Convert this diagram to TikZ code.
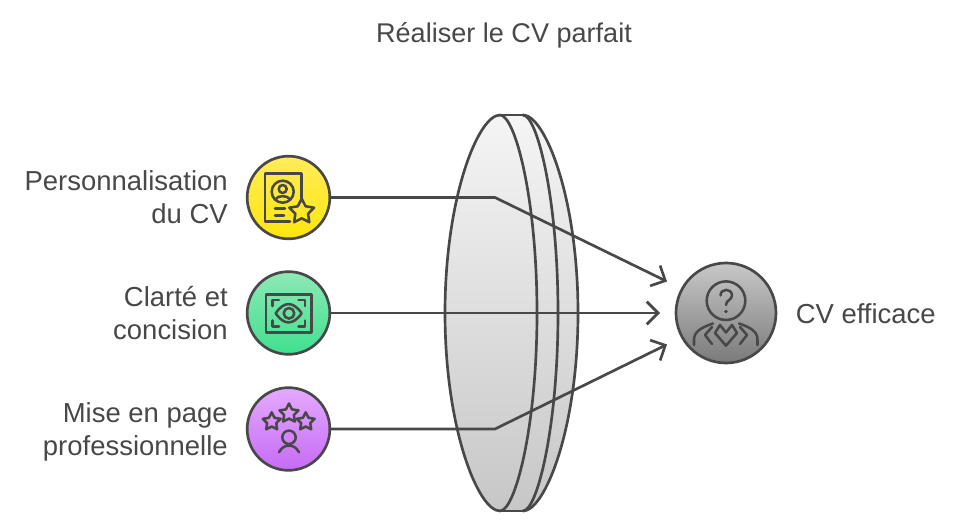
\documentclass[tikz,border=0pt]{standalone}
\usepackage{fontspec}
\setmainfont{Liberation Sans}
\usetikzlibrary{arrows.meta,shapes.geometric}
\definecolor{ink}{HTML}{484848}
\tikzset{
  x=0.75pt,y=-0.75pt,
  ln/.style={draw=ink,line width=2pt,line cap=round,line join=round},
  ic/.style={draw=ink,line width=1.9pt,line cap=round,line join=round},
  badge/.style={circle,draw=ink,line width=2pt,minimum size=62pt,inner sep=0pt},
  lbl/.style={text=ink,font=\fontsize{20.6}{24.75}\selectfont,align=right,anchor=east,inner sep=0pt},
  conn/.style={ln,-{Straight Barb[length=8.5pt,width=17pt,line width=2pt]}},
  starp/.style={star,star points=5,star point ratio=1.95,ic,inner sep=0pt},
}
\begin{document}
\begin{tikzpicture}
\useasboundingbox (0,0) rectangle (957,530);
% lens
\path[top color=black!4,bottom color=black!22,shading angle=0]
  (500,115) .. controls (478,115) and (445,198) .. (445,313)
  .. controls (445,428) and (478,511) .. (500,511)
  -- (523,511) .. controls (545,511) and (578,428) .. (578,313)
  .. controls (578,198) and (545,115) .. (523,115) -- cycle;
\draw[ln] (500,115) .. controls (478,115) and (445,198) .. (445,313)
  .. controls (445,428) and (478,511) .. (500,511);
\draw[ln] (500,115) .. controls (515,115) and (537,198) .. (537,313)
  .. controls (537,428) and (515,511) .. (500,511);
\draw[ln] (523,115) .. controls (537,115) and (558,198) .. (558,313)
  .. controls (558,428) and (537,511) .. (523,511);
\draw[ln] (523,115) .. controls (545,115) and (578,198) .. (578,313)
  .. controls (578,428) and (545,511) .. (523,511);
\draw[ln] (500,115) -- (523,115);
\draw[ln] (500,511) -- (523,511);
% badges
\node[badge,top color={rgb,255:red,255;green,236;blue,90},bottom color={rgb,255:red,255;green,230;blue,10}] (a) at (288.5,197.5) {};
\node[badge,top color={rgb,255:red,142;green,233;blue,181},bottom color={rgb,255:red,63;green,224;blue,143}] (b) at (288.5,313) {};
\node[badge,top color={rgb,255:red,228;green,170;blue,255},bottom color={rgb,255:red,198;green,107;blue,245}] (c) at (288.5,429) {};
\node[badge,minimum size=75pt,top color={rgb,255:red,200;green,200;blue,200},bottom color={rgb,255:red,122;green,122;blue,122}] (d) at (726,313) {};
% connectors
\coordinate (b1) at (495,197.5);
\coordinate (b3) at (495,429);
\coordinate (t1) at (667,281.5);
\coordinate (t2) at (660,313);
\coordinate (t3) at (667,344.5);
\draw[conn] (a.east) -- (b1) -- (t1);
\draw[conn] (b.east) -- (t2);
\draw[conn] (c.east) -- (b3) -- (t3);
% icon: profile document
\draw[ic] (290,221.7) -- (265,221.7) -- (265,173.5) -- (301.7,173.5) -- (301.7,200);
\draw[ic] (282.7,191.7) circle[radius=11];
\draw[ic] (282.7,189) circle[radius=4];
\draw[ic] (275.5,199.5) .. controls (277,195) and (288,195) .. (290,199.5);
\draw[ic] (275,208.3) -- (285,208.3);
\draw[ic] (275,215.7) -- (284,215.7);
\node[starp,minimum size=19.5pt] (s1) at (301.7,211.7) {};
% icon: eye
\draw[ic] (266,294.3) rectangle (311.7,332.3);
\draw[ic] (272.5,306) -- (272.5,300) -- (279,300);
\draw[ic] (298.5,300) -- (305,300) -- (305,306);
\draw[ic] (305,320.5) -- (305,326.7) -- (298.5,326.7);
\draw[ic] (279,326.7) -- (272.5,326.7) -- (272.5,320.5);
\draw[ic] (275.7,313.3) .. controls (284,301) and (293,301) .. (301.7,313.3) .. controls (293,325.5) and (284,325.5) .. (275.7,313.3) -- cycle;
\draw[ic] (289,313.3) circle[radius=5.3];
% icon: stars and person
\node[starp,minimum size=15pt] (s2) at (289,413.5) {};
\node[starp,minimum size=14pt] (s3) at (271.7,421.7) {};
\node[starp,minimum size=14pt] (s4) at (305.7,421.7) {};
\draw[ic] (289,437.3) circle[radius=6.7];
\draw[ic] (279,452.3) .. controls (282,447) and (285,445.7) .. (289,445.7) .. controls (293,445.7) and (296,447) .. (299,452.3);
% icon: unknown person
\draw[ic] (726,300.7) circle[radius=19.3];
\draw[ic] (720.5,295.5) .. controls (720.5,288) and (732,288) .. (732,295.5) .. controls (732,300) and (726,300) .. (726,305);
\fill[ink] (726,311.5) circle[radius=1.8];
\draw[ic] (694,345) -- (694,340) .. controls (694,332) and (700,328) .. (713,323.5);
\draw[ic] (757.5,345) -- (757.5,340) .. controls (757.5,332) and (752,328) .. (739,323.5);
\draw[ic] (712,327) -- (705,335) -- (712,344);
\draw[ic] (740,327) -- (747,335) -- (740,344);
\draw[ic] (715,333) -- (720,325) -- (726,332.5) -- (732,325) -- (737,333) -- (726,345.7) -- cycle;
% labels
\node[lbl] (la) at (228,197.5) {Personnalisation\\du CV};
\node[lbl] (lb) at (228,313.5) {Clarté et\\concision};
\node[lbl] (lc) at (228,431.5) {Mise en page\\professionnelle};
\node[lbl,anchor=west] (ld) at (795.5,313.5) {CV efficace};
\node[text=ink,font=\fontsize{20.3}{24.75}\selectfont,inner sep=0pt] (ti) at (504,35) {Réaliser le CV parfait};
\end{tikzpicture}
\end{document}
